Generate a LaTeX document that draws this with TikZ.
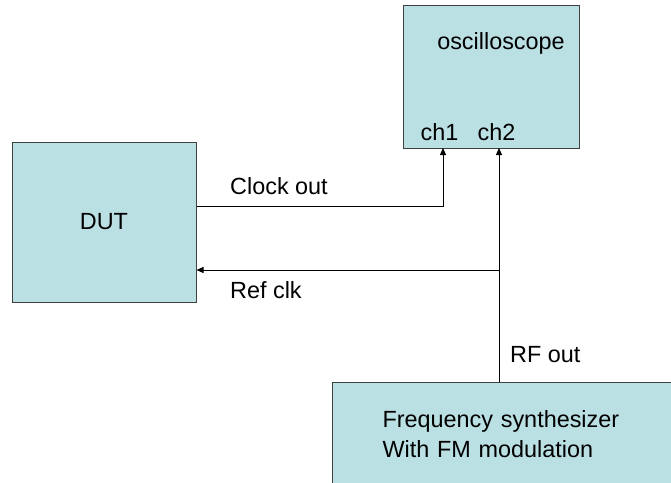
\documentclass[tikz,border=0pt]{standalone}
\usepackage{fontspec}
\setmainfont{Liberation Sans}
\usepackage{xcolor}
\usetikzlibrary{arrows.meta, positioning}
\definecolor{boxfill}{RGB}{187,224,227}
\definecolor{boxline}{RGB}{64,64,64}

\begin{document}
\begin{tikzpicture}[
    x=1pt, y=-1pt,
    box/.style={draw=boxline, fill=boxfill, line width=1pt,
                inner sep=0pt, font=\fontsize{23.4}{30}\selectfont},
    lbl/.style={inner sep=0pt, font=\fontsize{23.4}{30}\selectfont},
    arrow/.style={-{Triangle[length=7pt, width=6pt]}, line width=1pt},
]
    \useasboundingbox (0,0) rectangle (671,482);
    \node[box, minimum width=176pt, minimum height=143pt] (osc) at (491,76.5) {};
    \node[lbl] (osctext) at (501,43) {oscilloscope};
    \node[lbl] (ch1) at (439.5,132) {ch1};
    \node[lbl] (ch2) at (496.5,132) {ch2};
    \node[box, minimum width=184pt, minimum height=160pt] (dut) at (104,222) {DUT};
    \node[box, anchor=north west, align=left, text width=260pt,
          inner xsep=50pt, minimum height=104pt] (synth) at (332,382)
          {Frequency synthesizer\\With FM modulation};
    \coordinate (ch1in) at (443,148);
    \coordinate (ch2in) at (499,148);
    \coordinate (rfout) at (499,382);
    \coordinate (refbr) at (499,270);
    \draw[arrow] (dut.east |- 0,206) -| (ch1in);
    \draw[arrow] (rfout) -- (ch2in);
    \draw[arrow] (refbr) -- (dut.east |- refbr);
    \node[lbl, anchor=west] (clkout) at (230,186) {Clock out};
    \node[lbl, anchor=west] (refclk) at (230,290) {Ref clk};
    \node[lbl, anchor=west] (rf) at (510,355) {RF out};
\end{tikzpicture}
\end{document}
